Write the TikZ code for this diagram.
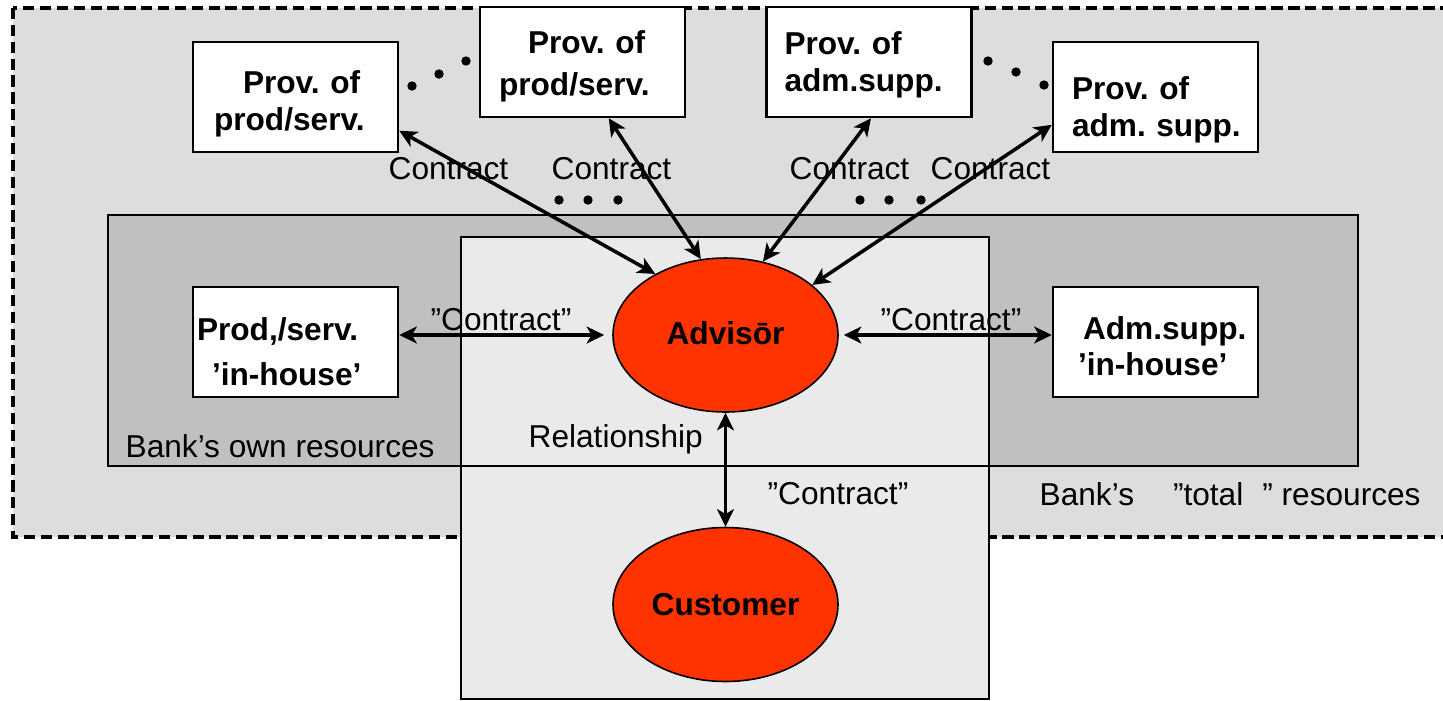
\documentclass[tikz,border=0pt]{standalone}
\usepackage{fontspec}
\setmainfont{Liberation Sans}
\usetikzlibrary{arrows.meta,shapes.geometric}
\setlength{\parindent}{0pt}
\frenchspacing

\definecolor{totalgray}{HTML}{DDDDDD}
\definecolor{owngray}{HTML}{C0C0C0}
\definecolor{coregray}{HTML}{EAEAEA}
\definecolor{partyred}{HTML}{FF3300}
\newcommand{\diagfont}{\fontsize{9}{10.5}\selectfont}
\newcommand{\firstline}[1]{\rule{0pt}{#1}}

\begin{document}
\begin{tikzpicture}[>={Stealth[length=5pt,width=4.8pt,inset=1.4pt]},
    prov/.style={draw,line width=0.7pt,fill=white,inner sep=0pt,
      text width=2.05cm,minimum height=1.1cm,align=left,font=\diagfont\bfseries},
    party/.style={ellipse,draw,line width=0.45pt,fill=partyred,inner sep=0pt,
      minimum width=2.25cm,minimum height=1.54cm,font=\diagfont\bfseries},
    link/.style={<->,line width=1pt},
    lbl/.style={anchor=base west,inner sep=0pt,font=\diagfont}]

    \useasboundingbox (0,0) rectangle (14.43,7);
    \clip (0,0) rectangle (14.43,7);

    % total, own and core areas
    \draw[dash pattern=on 3.2pt off 1.6pt,line width=0.9pt,fill=totalgray]
      (0.13,6.92) rectangle (14.6,1.63);
    \draw[line width=0.7pt,fill=owngray] (1.08,4.85) rectangle (13.58,2.34);
    \draw[line width=0.7pt,fill=coregray] (4.61,4.63) rectangle (9.89,0.01);
    \draw[line width=0.45pt] (4.61,2.34) -- (10.01,2.34);

    \node[prov] (prov1) at (2.955,6.03)
      {\firstline{10.6pt}\hspace*{0.50cm}Prov. of\\\hspace*{0.21cm}prod/serv.};
    \node[prov] (prov2) at (5.825,6.38)
      {\firstline{8.9pt}\hspace*{0.48cm}Prov. of\\[1.5pt]\hspace*{0.19cm}prod/serv.};
    \node[prov] (adm1) at (8.69,6.38)
      {\firstline{8.3pt}\hspace*{0.18cm}Prov. of\\\hspace*{0.18cm}adm.supp.};
    \node[prov] (adm2) at (11.555,6.03)
      {\firstline{14pt}\hspace*{0.19cm}Prov. of\\\hspace*{0.19cm}adm. supp.};

    \node[prov] (ownprod) at (2.955,3.58)
      {\firstline{12.3pt}\hspace*{0.04cm}Prod,/serv.\\[2.3pt]\hspace*{0.19cm}’in-house’};
    \node[prov] (ownadm) at (11.555,3.58)
      {\firstline{8.9pt}\hspace*{0.30cm}Adm.supp.\\\hspace*{0.25cm}’in-house’};

    \node[party] (advisor) at (7.255,3.65) {\raisebox{1.3pt}{Advisōr}};
    \node[party] (customer) at (7.255,0.955) {Customer};

    \draw[link] (prov1.-18) -- (advisor.139);
    \draw[link] (prov2.-65) -- (advisor.108);
    \draw[link] (adm1.-88) -- (advisor.63);
    \draw[link] (adm2.-165) -- (advisor.30);
    \draw[link,shorten >=0.08cm] (ownprod.east |- advisor.west) -- (advisor.west);
    \draw[link,shorten <=0.05cm] (advisor.east) -- (advisor.east -| ownadm.west);
    \draw[link] (advisor.south) -- (customer.north);

    % more providers
    \foreach \x/\y in {4.12/6.14,4.39/6.26,4.66/6.39,
                       9.88/6.39,10.16/6.28,10.44/6.15,
                       5.59/5.00,5.88/5.00,6.18/5.00,
                       8.60/5.00,8.89/5.00,9.21/5.00}
      \fill (\x,\y) circle (0.047);

    \node[lbl] (c1) at (3.88,5.21) {Contract};
    \node[lbl] (c2) at (5.51,5.21) {Contract};
    \node[lbl] (c3) at (7.89,5.21) {Contract};
    \node[lbl] (c4) at (9.30,5.21) {Contract};
    \node[lbl] (cprod) at (4.30,3.70) {”Contract”};
    \node[lbl] (cadm) at (8.80,3.70) {”Contract”};
    \node[lbl] (ccust) at (7.67,1.96) {”Contract”};
    \node[lbl] (rel) at (5.28,2.53) {Relationship};
    \node[lbl] (own) at (1.25,2.43) {Bank’s own resources};
    \node[lbl] (total) at (10.39,1.95)
      {Bank’s\hspace{0.39cm}”total\hspace{0.19cm}” resources};
\end{tikzpicture}
\end{document}
